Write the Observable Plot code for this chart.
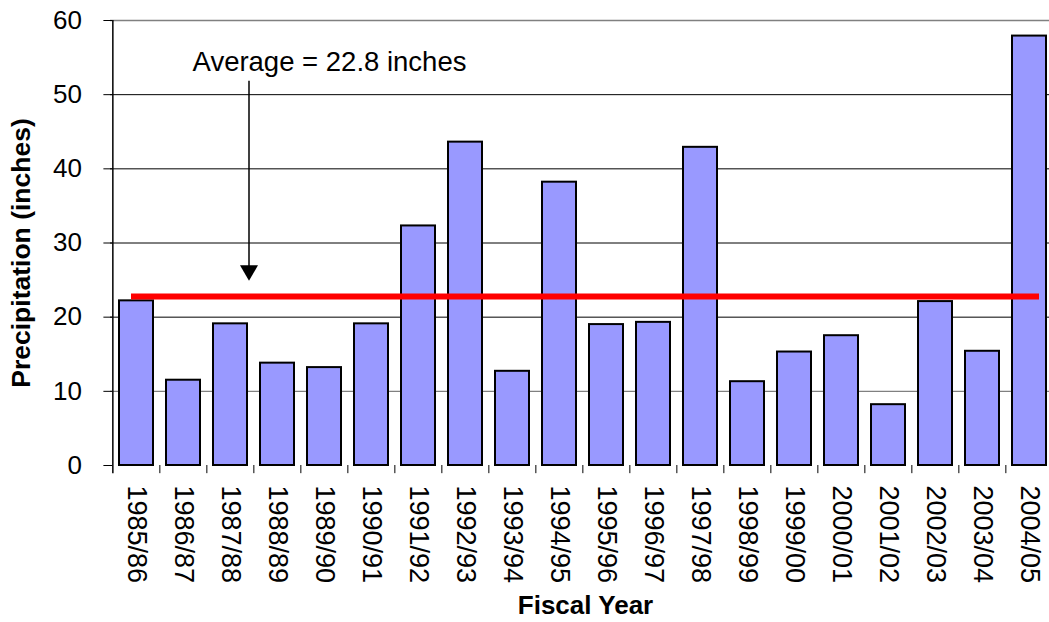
<!DOCTYPE html>
<html>
<head>
<meta charset="utf-8">
<script src="https://cdn.jsdelivr.net/npm/d3@7"></script>
<script src="https://cdn.jsdelivr.net/npm/@observablehq/plot@0.6"></script>
<style>
  html, body { margin: 0; padding: 0; background: #fff; }
  #chart { width: 1049px; height: 622px; }
</style>
</head>
<body>
<div id="chart"></div>
<script>
const years = ["1985/86","1986/87","1987/88","1988/89","1989/90","1990/91","1991/92","1992/93","1993/94","1994/95",
               "1995/96","1996/97","1997/98","1998/99","1999/00","2000/01","2001/02","2002/03","2003/04","2004/05"];
const precipitation = [22.2, 11.5, 19.1, 13.8, 13.2, 19.1, 32.3, 43.6, 12.7, 38.2,
                       19.0, 19.3, 42.9, 11.3, 15.3, 17.5, 8.2, 22.1, 15.4, 57.9];
const average = 22.8;
const averageLabel = "Average = 22.8 inches";
const yTicks = [0, 10, 20, 30, 40, 50, 60];
const gridValues = [20, 30, 40, 50];
const lightGridValues = [10];
const xTitle = "Fiscal Year";
const yTitle = "Precipitation (inches)";

const data = years.map((y, i) => ({year: y, value: precipitation[i]}));
const font = "'Liberation Sans', Arial, Helvetica, sans-serif";
const step = 47.3;

const chart = Plot.plot({
  width: 1049,
  height: 622,
  marginLeft: 110,
  marginTop: 20,
  marginBottom: 157,
  marginRight: 0,
  style: {fontFamily: font, fontSize: "26px", background: "#fff", color: "#000"},
  x: {domain: years, range: [110, 110 + step * years.length], paddingInner: 0.275, paddingOuter: 0.1375, axis: null},
  y: {domain: [0, 60], axis: null},
  marks: [
    Plot.ruleY(gridValues, {stroke: "#000", strokeWidth: 1}),
    Plot.ruleY(lightGridValues, {stroke: "#808080", strokeWidth: 1.2}),
    Plot.ruleY([60], {stroke: "#808080", strokeWidth: 1.5}),
    Plot.barY(data, {x: "year", y: "value", fill: "#9999FF", stroke: "#000", strokeWidth: 2}),
    Plot.ruleY([average], {stroke: "#FF0000", strokeWidth: 6, insetLeft: 21, insetRight: 10}),
    // band-boundary ticks on x axis (first one is the y axis line)
    Plot.ruleX(years.slice(1), {x: d => d, dx: -step / 2, y1: () => 0, y2: () => -1.1, stroke: "#000", strokeWidth: 1}),
    Plot.ruleX([years[0]], {x: d => d, dx: -step / 2, y1: () => -1.1, y2: () => 60, stroke: "#000", strokeWidth: 1.5}),
    // y ticks pointing left
    Plot.tickY(yTicks, {x: () => years[0], y: d => d, dx: -15.6, insetRight: 25.3, stroke: "#000", strokeWidth: 1}),
    // y tick labels
    Plot.text(yTicks, {x: () => years[0], y: d => d, dx: -54.6, text: d => String(d), textAnchor: "end", fontSize: 26, fill: "#000"}),
    // x tick labels (rotated)
    Plot.text(years, {x: d => d, y: () => 0, dy: 20, text: d => d, rotate: 90, textAnchor: "start", fontSize: 27, fill: "#000"}),
    // annotation arrow
    Plot.ruleX([years[2]], {x: d => d, dx: 18.5, y1: () => 51.8, y2: () => 26.5, stroke: "#000", strokeWidth: 1.5}),
    Plot.dot([years[2]], {x: d => d, y: () => 26.3, dx: 18.5, symbol: "triangle", r: 6.7, rotate: 180, fill: "#000", stroke: "none"}),
    Plot.text([averageLabel], {x: () => years[4], y: () => 54.4, dx: 5, text: d => d, fontSize: 27.5, fill: "#000"}),
    Plot.text([yTitle], {frameAnchor: "left", textAnchor: "middle", rotate: -90, dx: -89, dy: 10, text: d => d, fontSize: 26.5, fontWeight: "bold", fill: "#000"}),
    Plot.text([xTitle], {frameAnchor: "bottom", dx: 5.5, dy: 148, text: d => d, fontSize: 26, fontWeight: "bold", fill: "#000"})
  ]
});
document.getElementById("chart").appendChild(chart);
</script>
</body>
</html>
